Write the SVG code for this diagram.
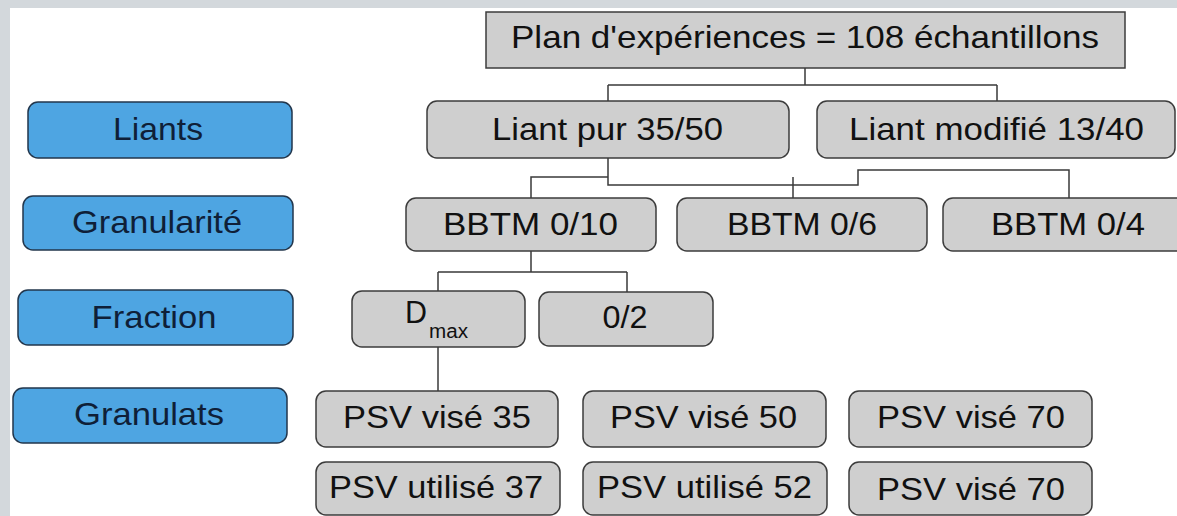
<svg xmlns="http://www.w3.org/2000/svg" width="1177" height="516" viewBox="0 0 1177 516">
<style>
.bg{fill:#ffffff}
.band{fill:#d3d8dc}
.g{fill:#cfcfcf;stroke:#3c3c3c;stroke-width:1.5}
.b{fill:#4ea5e2;stroke:#22364c;stroke-width:1.5}
.t{font-family:"Liberation Sans",Arial,sans-serif;font-size:32px;fill:#111111;text-anchor:middle}
.tb{font-family:"Liberation Sans",Arial,sans-serif;font-size:32px;fill:#0f1f38;text-anchor:middle}
.c{fill:none;stroke:#3a3a3a;stroke-width:1.5}
</style>
<rect class="bg" x="0" y="0" width="1177" height="516"/>
<rect class="band" x="0" y="0" width="1177" height="8"/>
<rect class="band" x="0" y="0" width="10" height="516"/>

<g id="connectors">
<path class="c" d="M805,68 V85 M608,85 H997 M608,85 V101 M997,85 V101"/>
<path class="c" d="M608,158 V185 H858 V170 H1069 V198"/>
<path class="c" d="M531,198 V177 H608"/>
<path class="c" d="M793,177 V198"/>
<path class="c" d="M531,251 V272 M438,272 H627 M438,272 V291 M627,272 V292"/>
<path class="c" d="M438,347 V391"/>
</g>

<g id="cat-liants"><rect class="b" x="28" y="102" width="264" height="56" rx="10"/><text class="tb" x="158" y="140" textLength="90" lengthAdjust="spacingAndGlyphs">Liants</text></g>
<g id="cat-granularite"><rect class="b" x="23" y="196" width="270" height="54" rx="10"/><text class="tb" x="157" y="233" textLength="170" lengthAdjust="spacingAndGlyphs">Granularité</text></g>
<g id="cat-fraction"><rect class="b" x="18" y="290" width="275" height="55" rx="10"/><text class="tb" x="154" y="328" textLength="125" lengthAdjust="spacingAndGlyphs">Fraction</text></g>
<g id="cat-granulats"><rect class="b" x="13" y="388" width="274" height="55" rx="10"/><text class="tb" x="149" y="425" textLength="150" lengthAdjust="spacingAndGlyphs">Granulats</text></g>

<g id="plan"><rect class="g" x="486" y="12" width="639" height="56"/><text class="t" x="805" y="48" textLength="588" lengthAdjust="spacingAndGlyphs">Plan d'expériences = 108 échantillons</text></g>
<g id="liant-pur"><rect class="g" x="427" y="101" width="362" height="57" rx="10"/><text class="t" x="607.5" y="140" textLength="231" lengthAdjust="spacingAndGlyphs">Liant pur 35/50</text></g>
<g id="liant-modifie"><rect class="g" x="817" y="101" width="358" height="57" rx="10"/><text class="t" x="996.5" y="140" textLength="295" lengthAdjust="spacingAndGlyphs">Liant modifié 13/40</text></g>
<g id="bbtm-010"><rect class="g" x="406" y="198" width="250" height="53" rx="10"/><text class="t" x="530.5" y="235" textLength="175" lengthAdjust="spacingAndGlyphs">BBTM 0/10</text></g>
<g id="bbtm-06"><rect class="g" x="677" y="198" width="250" height="53" rx="10"/><text class="t" x="802" y="235" textLength="150" lengthAdjust="spacingAndGlyphs">BBTM 0/6</text></g>
<g id="bbtm-04"><rect class="g" x="943" y="198" width="257" height="53" rx="10"/><text class="t" x="1068" y="235" textLength="154" lengthAdjust="spacingAndGlyphs">BBTM 0/4</text></g>
<g id="dmax"><rect class="g" x="352" y="291" width="173" height="56" rx="10"/><text class="t" x="416" y="323" textLength="22" lengthAdjust="spacingAndGlyphs">D</text><text class="t" x="448.5" y="338" style="font-size:20px" textLength="39" lengthAdjust="spacingAndGlyphs">max</text></g>
<g id="f02"><rect class="g" x="539" y="292" width="174" height="54" rx="10"/><text class="t" x="625" y="328" textLength="45" lengthAdjust="spacingAndGlyphs">0/2</text></g>
<g id="psv35"><rect class="g" x="316" y="391" width="242" height="56" rx="10"/><text class="t" x="437" y="428" textLength="188" lengthAdjust="spacingAndGlyphs">PSV visé 35</text></g>
<g id="psv50"><rect class="g" x="583" y="391" width="243" height="56" rx="10"/><text class="t" x="703.5" y="428" textLength="187" lengthAdjust="spacingAndGlyphs">PSV visé 50</text></g>
<g id="psv70a"><rect class="g" x="849" y="391" width="243" height="56" rx="10"/><text class="t" x="971" y="428" textLength="188" lengthAdjust="spacingAndGlyphs">PSV visé 70</text></g>
<g id="psvu37"><rect class="g" x="316" y="462" width="244" height="53" rx="10"/><text class="t" x="436" y="498" textLength="214" lengthAdjust="spacingAndGlyphs">PSV utilisé 37</text></g>
<g id="psvu52"><rect class="g" x="583" y="462" width="244" height="53" rx="10"/><text class="t" x="704.5" y="498" textLength="215" lengthAdjust="spacingAndGlyphs">PSV utilisé 52</text></g>
<g id="psv70b"><rect class="g" x="849" y="462" width="243" height="53" rx="10"/><text class="t" x="971" y="500" textLength="188" lengthAdjust="spacingAndGlyphs">PSV visé 70</text></g>
</svg>
